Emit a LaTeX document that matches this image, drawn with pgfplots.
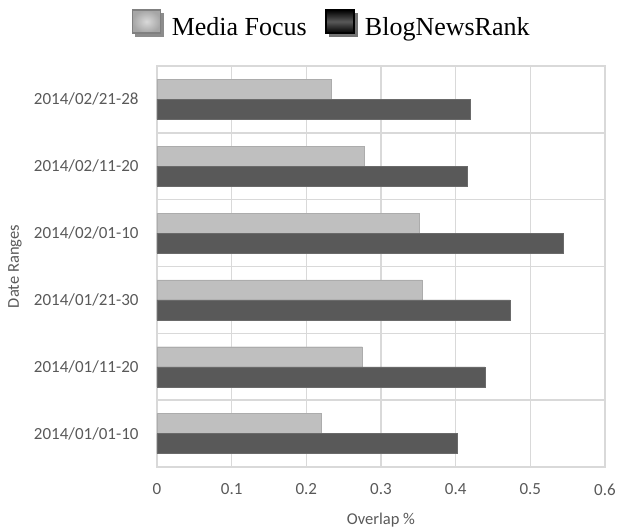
\documentclass[border=0pt]{standalone}
\usepackage{pgfplots}
\pgfplotsset{compat=1.18}
\usepackage{fontspec}
\setmainfont{Carlito}
\newfontfamily\legendfont{Liberation Serif}
\definecolor{mf}{HTML}{BFBFBF}
\definecolor{bnr}{HTML}{595959}
\definecolor{gridc}{HTML}{D9D9D9}
\definecolor{tickc}{HTML}{595959}
\begin{document}
\begin{tikzpicture}
\begin{axis}[
  at={(0,0)}, anchor=south west,
  scale only axis, width=448bp, height=401bp,
  xbar, bar width=0.3,
  xmin=0, xmax=0.6, xtick={0,0.1,0.2,0.3,0.4,0.5,0.6},
  ymin=-0.5, ymax=5.5, ytick={0,1,2,3,4,5},
  yticklabels={2014/01/01-10,2014/01/11-20,2014/01/21-30,2014/02/01-10,2014/02/11-20,2014/02/21-28},
  minor ytick={-0.5,0.5,1.5,2.5,3.5,4.5,5.5},
  xmajorgrids=true, yminorgrids=true, ymajorgrids=false,
  grid style={gridc, line width=1.5bp},
  minor grid style={gridc, line width=1.5bp},
  axis line style={gridc, line width=1.5bp},
  major tick length=0pt, minor tick length=0pt,
  tick label style={font=\fontsize{17bp}{20bp}\selectfont, text=tickc},
  xticklabel style={/pgf/number format/fixed, /pgf/number format/assume math mode=true, yshift=-13bp},
  yticklabel style={xshift=-15bp},
  xlabel={Overlap \%}, ylabel={Date Ranges},
  label style={font=\fontsize{16.5bp}{19bp}\selectfont, text=tickc},
  xlabel style={at={(axis description cs:0.5,0)}, anchor=center, yshift=-53bp},
  ylabel style={at={(axis description cs:-0.317,0.5)}, anchor=center},
  legend columns=2,
  legend style={draw=none, fill=none, at={(axis description cs:0.39,1.105)}, anchor=center,
    font=\legendfont\fontsize{26bp}{30bp}\selectfont,
    /tikz/every odd column/.append style={column sep=6bp},
    /tikz/every even column/.append style={column sep=16bp}},
]
\addplot[fill=mf, draw=mf!90!black, bar shift=0.15,
  legend image code/.code={
    \fill[black!45] (3bp,-9bp) rectangle (31bp,14bp);
    \shadedraw[draw=black!50, line width=1.5bp, inner color=black!15, outer color=black!35] (0,-6bp) rectangle (28bp,17bp);
  }] coordinates {(0.220,0) (0.275,1) (0.355,2) (0.351,3) (0.277,4) (0.233,5)};
\addlegendentry{Media Focus}
\addplot[fill=bnr, draw=bnr!90!white, bar shift=-0.15,
  legend image code/.code={
    \fill[black!55] (3bp,-9bp) rectangle (31bp,14bp);
    \shadedraw[draw=black, line width=2bp, top color=black, bottom color=black, middle color=black!65] (0,-6bp) rectangle (28bp,17bp);
  }] coordinates {(0.402,0) (0.439,1) (0.473,2) (0.544,3) (0.415,4) (0.420,5)};
\addlegendentry{BlogNewsRank}
\end{axis}
\pgfresetboundingbox
\path[use as bounding box] (-157bp,-61bp) rectangle (460bp,467bp);
\end{tikzpicture}
\end{document}
